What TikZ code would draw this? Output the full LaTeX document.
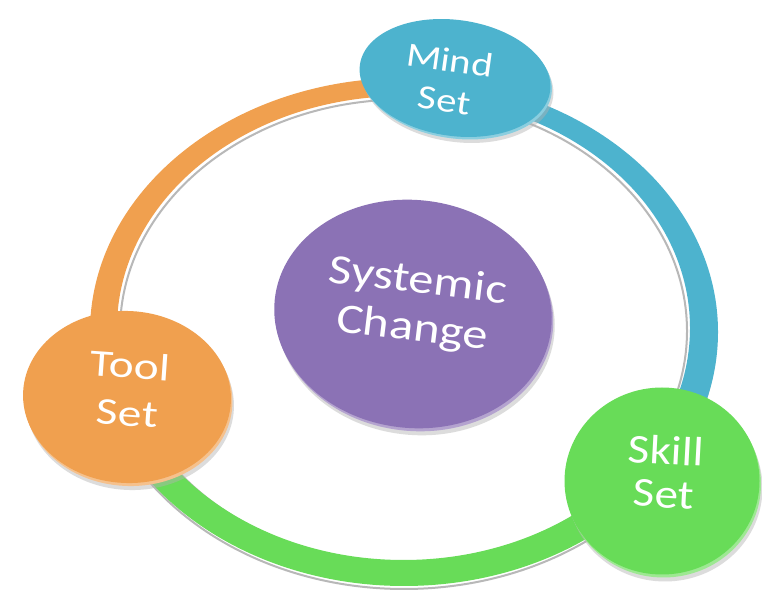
\documentclass[tikz,border=0pt]{standalone}
\usepackage{fontspec}
\setmainfont{Carlito}
\usetikzlibrary{shapes.geometric}
\definecolor{cteal}{HTML}{4DB3CE}
\definecolor{corange}{HTML}{F0A04F}
\definecolor{cgreen}{HTML}{68DC58}
\definecolor{cpurple}{HTML}{8B72B5}
\begin{document}
\begin{tikzpicture}[x=1pt,y=1pt,
  disc/.style={ellipse, draw=none, fill=#1, inner sep=0pt},
  discshadow/.style={ellipse, draw=none, fill=black!30, inner sep=0pt, opacity=0.45},
  discrim/.style={ellipse, draw=none, fill=#1!65!white, inner sep=0pt},
  lbl/.style={text=white, align=center, inner sep=0pt},
  ringshadow/.style={draw=black!28, line width=2pt},
  ringseg/.style={fill=#1, even odd rule}]
\useasboundingbox (0,0) rectangle (762,593);
\fill[white] (0,0) rectangle (762,593);
% ring geometry
\coordinate (rc) at (404,263);
\coordinate (oc) at (404,261);
\coordinate (ic) at (403.5,265);
\coordinate (osh) at (404,258);
\coordinate (ish) at (403.5,262);
% ring shadows
\draw[ringshadow] (osh) ellipse[x radius=312, y radius=254];
\draw[ringshadow] (ish) ellipse[x radius=283.5, y radius=231.5];
% ring segments
\begin{scope}
\clip (rc) -- ++(-30.2:900) arc[start angle=-30.2, end angle=78.6, radius=900] -- cycle;
\fill[ringseg=cteal] (oc) ellipse[x radius=314, y radius=254] (ic) ellipse[x radius=286.5, y radius=232];
\end{scope}
\begin{scope}
\clip (rc) -- ++(78.6:900) arc[start angle=78.6, end angle=193.4, radius=900] -- cycle;
\fill[ringseg=corange] (oc) ellipse[x radius=314, y radius=254] (ic) ellipse[x radius=286.5, y radius=232];
\end{scope}
\begin{scope}
\clip (rc) -- ++(193.4:900) arc[start angle=193.4, end angle=329.8, radius=900] -- cycle;
\fill[ringseg=cgreen] (oc) ellipse[x radius=314, y radius=254] (ic) ellipse[x radius=286.5, y radius=232];
\end{scope}
% Mind Set disc
\node[discshadow, minimum width=192pt, minimum height=116pt, rotate=-8] (mindsh) at (458,509) {};
\node[discrim=cteal, minimum width=192pt, minimum height=116pt, rotate=-8] (mindrim) at (456.5,512.5) {};
\node[disc=cteal, minimum width=192pt, minimum height=116pt, rotate=-8] (mind) at (455,515) {};
% Systemic Change disc
\node[discshadow, minimum width=278pt, minimum height=228pt, rotate=-6] (syssh) at (416,272) {};
\node[discrim=cpurple, minimum width=278pt, minimum height=228pt, rotate=-6] (sysrim) at (414.5,276) {};
\node[disc=cpurple, minimum width=278pt, minimum height=228pt, rotate=-6] (sys) at (413,279) {};
% Tool Set disc
\node[discshadow, minimum width=208pt, minimum height=172pt, rotate=-3] (toolsh) at (130,189) {};
\node[discrim=corange, minimum width=208pt, minimum height=172pt, rotate=-3] (toolrim) at (128.5,193) {};
\node[disc=corange, minimum width=208pt, minimum height=172pt, rotate=-3] (tool) at (127,196) {};
% Skill Set disc
\node[discshadow, minimum width=195pt, minimum height=187pt] (skillsh) at (665,105) {};
\node[discrim=cgreen, minimum width=195pt, minimum height=187pt] (skillrim) at (663.5,109) {};
\node[disc=cgreen, minimum width=195pt, minimum height=187pt] (skill) at (662,112) {};
% labels
\node[lbl, font=\fontsize{34}{40}\selectfont, rotate=-8, xscale=1.2] (mindtxt) at (447,513) {Mind\\Set};
\node[lbl, font=\fontsize{42}{48}\selectfont, rotate=-7, xscale=1.2] (systxt) at (415,287) {Systemic\\Change};
\node[lbl, font=\fontsize{38}{48}\selectfont, rotate=-4, xscale=1.25] (tooltxt) at (129,204) {Tool\\Set};
\node[lbl, font=\fontsize{41}{43}\selectfont, rotate=-3, xscale=1.15] (skilltxt) at (665,121) {Skill\\Set};
\end{tikzpicture}
\end{document}
